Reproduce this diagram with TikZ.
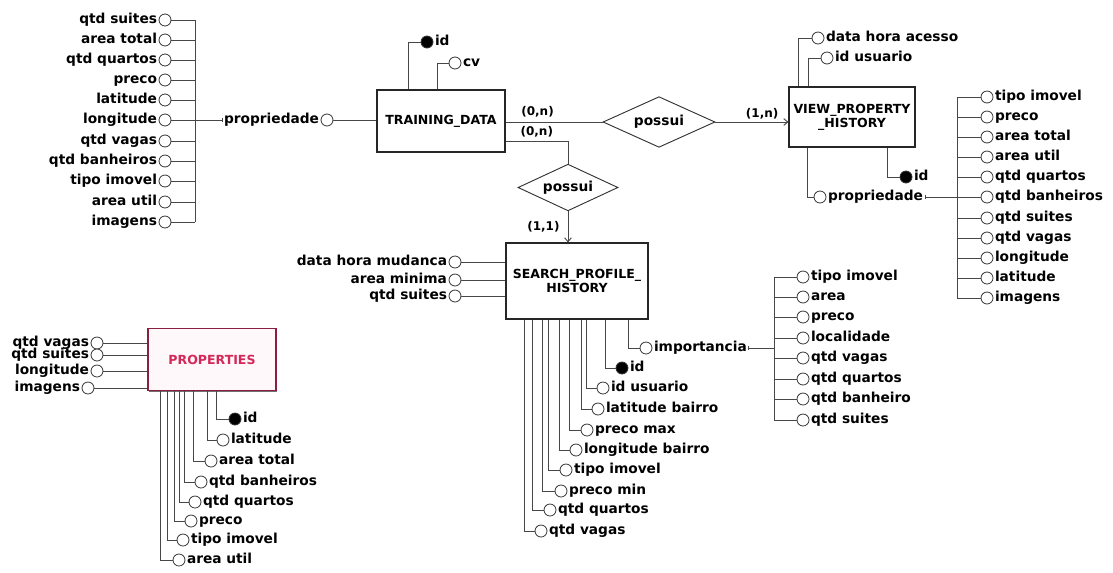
\documentclass[tikz,border=0pt]{standalone}
\usepackage{fontspec}
\setmainfont{DejaVu Sans}
\usepackage{tikz}
\usetikzlibrary{arrows.meta,calc,positioning,shapes.geometric,shadows}
\usepackage{xcolor}
\definecolor{propframe}{RGB}{140,30,64}
\definecolor{proptext}{RGB}{212,40,88}
\definecolor{propfill}{RGB}{255,248,251}

\begin{document}
\begin{tikzpicture}[
  x=0.75pt,
  y=-0.75pt,
  entity/.style={
    draw=black!85,
    line width=0.8pt,
    fill=white,
    align=center,
    inner sep=2pt,
    font=\fontsize{9.4}{10.6}\selectfont\bfseries,
    drop shadow={shadow xshift=0.9pt,shadow yshift=-0.9pt,fill=black!70,opacity=0.8}
  },
  relation/.style={
    diamond,
    draw=black!80,
    line width=0.7pt,
    fill=white,
    aspect=2.2,
    inner sep=1pt,
    font=\fontsize{10.3}{12}\selectfont\bfseries
  },
  attr/.style={
    circle,
    draw=black!80,
    fill=white,
    line width=0.6pt,
    minimum size=9pt,
    inner sep=0pt
  },
  keyattr/.style={attr,fill=black},
  every label/.append style={
    font=\fontsize{10.3}{12}\selectfont\bfseries,
    inner sep=1pt,
    text height=7.6pt,
    text depth=2.2pt
  },
  card/.style={font=\fontsize{9}{10}\selectfont\bfseries,inner sep=1pt},
  link/.style={draw=black!72,line width=0.7pt},
  toward/.style={link,-{Straight Barb[length=3pt,width=5pt]}},
  subtree/.style={link,{Bar[width=3pt,line width=0.6pt]}-}
]
\useasboundingbox (0,0) rectangle (1113,572);

% Entities
\node[entity,minimum width=96pt,minimum height=46.5pt] (td) at (441,121)
  {TRAINING\_DATA};
\node[entity,minimum width=94.5pt,minimum height=45pt] (view) at (852,117)
  {VIEW\_PROPERTY\\\_HISTORY};
\node[entity,minimum width=106.5pt,minimum height=57pt] (sp) at (577,281)
  {SEARCH\_PROFILE\_\\HISTORY};
\node[entity,draw=propframe,fill=propfill,text=proptext,
  minimum width=96pt,minimum height=47pt] (props) at (212,359.5)
  {PROPERTIES};

% Relationships
\node[relation,minimum width=84pt,minimum height=38pt] (hasView) at (659,122) {possui};
\node[relation,minimum width=75pt,minimum height=35pt] (hasSearch) at (568,187.5) {possui};

% Training data attributes
\node[keyattr,label=right:{id}] (tdId) at (427,42) {};
\node[attr,label=right:{cv}] (tdCv) at (455,63) {};
\node[attr,label={[name=tdPropT]left:{propriedade}}] (tdProp) at (327,120) {};
\coordinate (tdBus) at (195,120);
\node[attr,label=left:{qtd suites}] (tdSuites) at (165,20) {};
\node[attr,label=left:{area total}] (tdTotal) at (165,40) {};
\node[attr,label=left:{qtd quartos}] (tdQuartos) at (165,60) {};
\node[attr,label=left:{preco}] (tdPreco) at (165,80) {};
\node[attr,label=left:{latitude}] (tdLat) at (165,100) {};
\node[attr,label=left:{longitude}] (tdLon) at (165,120) {};
\node[attr,label=left:{qtd vagas}] (tdVagas) at (165,141) {};
\node[attr,label=left:{qtd banheiros}] (tdBanheiros) at (165,161) {};
\node[attr,label=left:{tipo imovel}] (tdTipo) at (165,181) {};
\node[attr,label=left:{area util}] (tdUtil) at (165,202) {};
\node[attr,label=left:{imagens}] (tdImagens) at (165,222) {};

% View property history attributes
\node[attr,label=right:{data hora acesso}] (vwAcesso) at (818,38) {};
\node[attr,label=right:{id usuario}] (vwUser) at (827,58) {};
\node[keyattr,label=right:{id}] (vwId) at (906,177) {};
\node[attr,label={[name=vwPropT]right:{propriedade}}] (vwProp) at (820,197) {};
\coordinate (vwBus) at (957,197);
\node[attr,label=right:{tipo imovel}] (vwTipo) at (987,97) {};
\node[attr,label=right:{preco}] (vwPreco) at (987,117) {};
\node[attr,label=right:{area total}] (vwTotal) at (987,137) {};
\node[attr,label=right:{area util}] (vwUtil) at (987,157) {};
\node[attr,label=right:{qtd quartos}] (vwQuartos) at (987,177) {};
\node[attr,label=right:{qtd banheiros}] (vwBanheiros) at (987,197) {};
\node[attr,label=right:{qtd suites}] (vwSuites) at (987,218) {};
\node[attr,label=right:{qtd vagas}] (vwVagas) at (987,238) {};
\node[attr,label=right:{longitude}] (vwLon) at (987,258) {};
\node[attr,label=right:{latitude}] (vwLat) at (987,278) {};
\node[attr,label=right:{imagens}] (vwImagens) at (987,298) {};

% Search profile history attributes
\node[attr,label=left:{data hora mudanca}] (spMudanca) at (455,262) {};
\node[attr,label=left:{area minima}] (spMinima) at (455,280) {};
\node[attr,label=left:{qtd suites}] (spSuites) at (455,296) {};
\node[attr,label={[name=spImpT]right:{importancia}}] (spImp) at (646,348) {};
\node[keyattr,label=right:{id}] (spId) at (622,368) {};
\node[attr,label=right:{id usuario}] (spUser) at (603,388) {};
\node[attr,label=right:{latitude bairro}] (spLat) at (598,409) {};
\node[attr,label=right:{preco max}] (spPMax) at (587,430) {};
\node[attr,label=right:{longitude bairro}] (spLon) at (576,450) {};
\node[attr,label=right:{tipo imovel}] (spTipo) at (566,470) {};
\node[attr,label=right:{preco min}] (spPMin) at (561,491) {};
\node[attr,label=right:{qtd quartos}] (spQuartos) at (550,510) {};
\node[attr,label=right:{qtd vagas}] (spVagas) at (541,531) {};

% Importancia components
\coordinate (impBus) at (774,348);
\node[attr,label=right:{tipo imovel}] (impTipo) at (803,277) {};
\node[attr,label=right:{area}] (impArea) at (803,297) {};
\node[attr,label=right:{preco}] (impPreco) at (803,317) {};
\node[attr,label=right:{localidade}] (impLocal) at (803,338) {};
\node[attr,label=right:{qtd vagas}] (impVagas) at (803,358) {};
\node[attr,label=right:{qtd quartos}] (impQuartos) at (803,379) {};
\node[attr,label=right:{qtd banheiro}] (impBanheiro) at (803,399) {};
\node[attr,label=right:{qtd suites}] (impSuites) at (803,420) {};

% Properties attributes
\node[attr,label=left:{qtd vagas}] (prVagas) at (97,343) {};
\node[attr,label=left:{qtd suites}] (prSuites) at (97,355) {};
\node[attr,label=left:{longitude}] (prLon) at (97,371) {};
\node[attr,label=left:{imagens}] (prImagens) at (88,388) {};
\node[keyattr,label=right:{id}] (prId) at (235,419) {};
\node[attr,label=right:{latitude}] (prLat) at (223,440) {};
\node[attr,label=right:{area total}] (prTotal) at (211,461) {};
\node[attr,label=right:{qtd banheiros}] (prBanheiros) at (201,482) {};
\node[attr,label=right:{qtd quartos}] (prQuartos) at (195,502) {};
\node[attr,label=right:{preco}] (prPreco) at (191,521) {};
\node[attr,label=right:{tipo imovel}] (prTipo) at (183,540) {};
\node[attr,label=right:{area util}] (prUtil) at (179,560) {};

% Relationship lines
\draw[link] (td.east |- hasView) -- node[card,above=2pt,pos=0.33] (cardTdView) {(0,n)} (hasView);
\draw[toward] (hasView) -- node[card,above=1pt,pos=0.64] (cardView) {(1,n)} (hasView -| view.west);
\draw[link] ($(td.south east)+(0,-11)$) -| node[card,above=2pt,pos=0.25] (cardTdSearch) {(0,n)} (hasSearch.north);
\draw[toward] (hasSearch) -- node[card,left=5pt] (cardSearch) {(1,1)} (hasSearch |- sp.north);

% Training data links
\draw[link] (tdId) -| ($(td.north west)+(32,0)$);
\draw[link] (tdCv) -| ($(td.north west)+(61,0)$);
\draw[link] (tdProp) -- (tdProp -| td.west);
\draw[subtree] (tdPropT.west) -- (tdBus);
\draw[link] (tdSuites -| tdBus) -- (tdImagens -| tdBus);
\draw[link] (tdSuites) -- (tdSuites -| tdBus) (tdTotal) -- (tdTotal -| tdBus)
  (tdQuartos) -- (tdQuartos -| tdBus) (tdPreco) -- (tdPreco -| tdBus)
  (tdLat) -- (tdLat -| tdBus) (tdLon) -- (tdLon -| tdBus)
  (tdVagas) -- (tdVagas -| tdBus) (tdBanheiros) -- (tdBanheiros -| tdBus)
  (tdTipo) -- (tdTipo -| tdBus) (tdUtil) -- (tdUtil -| tdBus)
  (tdImagens) -- (tdImagens -| tdBus);

% View property history links
\draw[link] (vwAcesso) -| ($(view.north west)+(10,0)$);
\draw[link] (vwUser) -| ($(view.north west)+(20,0)$);
\draw[link] (vwId) -| ($(view.south west)+(99,0)$);
\draw[link] (vwProp) -| ($(view.south west)+(19,0)$);
\draw[subtree] (vwPropT.east) -- (vwBus);
\draw[link] (vwTipo -| vwBus) -- (vwImagens -| vwBus);
\draw[link] (vwTipo) -- (vwTipo -| vwBus) (vwPreco) -- (vwPreco -| vwBus)
  (vwTotal) -- (vwTotal -| vwBus) (vwUtil) -- (vwUtil -| vwBus)
  (vwQuartos) -- (vwQuartos -| vwBus) (vwBanheiros) -- (vwBanheiros -| vwBus)
  (vwSuites) -- (vwSuites -| vwBus) (vwVagas) -- (vwVagas -| vwBus)
  (vwLon) -- (vwLon -| vwBus) (vwLat) -- (vwLat -| vwBus)
  (vwImagens) -- (vwImagens -| vwBus);

% Search profile history links
\draw[link] (spMudanca) -- (spMudanca -| sp.west);
\draw[link] (spMinima) -- (spMinima -| sp.west);
\draw[link] (spSuites) -- (spSuites -| sp.west);
\draw[link] (spImp) -| ($(sp.south west)+(123,0)$);
\draw[link] (spId) -| ($(sp.south west)+(100,0)$);
\draw[link] (spUser) -| ($(sp.south west)+(81,0)$);
\draw[link] (spLat) -| ($(sp.south west)+(76,0)$);
\draw[link] (spPMax) -| ($(sp.south west)+(64,0)$);
\draw[link] (spLon) -| ($(sp.south west)+(54,0)$);
\draw[link] (spTipo) -| ($(sp.south west)+(43,0)$);
\draw[link] (spPMin) -| ($(sp.south west)+(37,0)$);
\draw[link] (spQuartos) -| ($(sp.south west)+(27,0)$);
\draw[link] (spVagas) -| ($(sp.south west)+(19,0)$);
\draw[subtree] (spImpT.east) -- (impBus);
\draw[link] (impTipo -| impBus) -- (impSuites -| impBus);
\draw[link] (impTipo) -- (impTipo -| impBus) (impArea) -- (impArea -| impBus)
  (impPreco) -- (impPreco -| impBus) (impLocal) -- (impLocal -| impBus)
  (impVagas) -- (impVagas -| impBus) (impQuartos) -- (impQuartos -| impBus)
  (impBanheiro) -- (impBanheiro -| impBus) (impSuites) -- (impSuites -| impBus);

% Properties links
\draw[link] (prVagas) -- (prVagas -| props.west);
\draw[link] (prSuites) -- (prSuites -| props.west);
\draw[link] (prLon) -- (prLon -| props.west);
\draw[link] (prImagens) -- (prImagens -| props.west);
\draw[link] (prId) -| ($(props.south west)+(69,0)$);
\draw[link] (prLat) -| ($(props.south west)+(60,0)$);
\draw[link] (prTotal) -| ($(props.south west)+(46,0)$);
\draw[link] (prBanheiros) -| ($(props.south west)+(37,0)$);
\draw[link] (prQuartos) -| ($(props.south west)+(32,0)$);
\draw[link] (prPreco) -| ($(props.south west)+(27,0)$);
\draw[link] (prTipo) -| ($(props.south west)+(20,0)$);
\draw[link] (prUtil) -| ($(props.south west)+(13,0)$);
\end{tikzpicture}
\end{document}
